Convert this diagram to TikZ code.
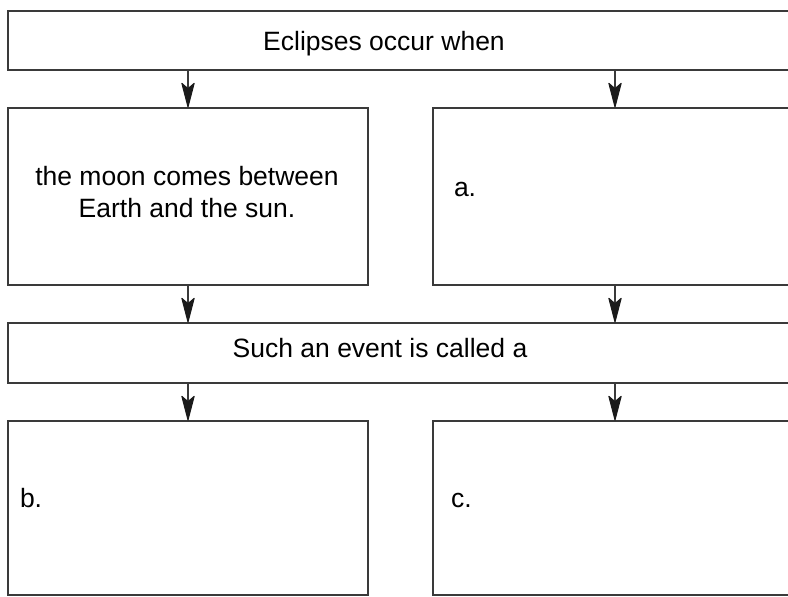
\documentclass[tikz,border=0pt]{standalone}
\usepackage{fontspec}
\setmainfont{Liberation Sans}
\usetikzlibrary{arrows.meta}
\definecolor{edge}{HTML}{3A3A3A}
\definecolor{tip}{HTML}{1A1A1A}
\tikzset{
  box/.style={draw=edge, line width=1.8bp, fill=white, rectangle, anchor=north west, inner sep=0pt, outer sep=0pt},
  arr/.style={draw=edge, line width=1.6bp, -{Stealth[length=27bp, width=14bp, inset=6bp, color=tip, line width=1bp, round]}, shorten >=0.5bp},
  txt/.style={inner sep=0pt, outer sep=0pt, font=\fontsize{26.5bp}{32bp}\selectfont, text=black},
}
\begin{document}
\begin{tikzpicture}[x=1bp, y=-1bp]
\useasboundingbox (0,0) rectangle (788,597);
\fill[white] (0,0) rectangle (788,597);
\begin{scope}
\clip (0,0) rectangle (788,597);
\node[box, minimum width=789bp, minimum height=59bp] (top) at (8,11) {};
\node[box, minimum width=360bp, minimum height=177bp] (l1) at (8,108) {};
\node[box, minimum width=364bp, minimum height=177bp] (r1) at (433,108) {};
\node[box, minimum width=789bp, minimum height=60bp] (mid) at (8,323) {};
\node[box, minimum width=360bp, minimum height=174bp] (l2) at (8,421) {};
\node[box, minimum width=364bp, minimum height=174bp] (r2) at (433,421) {};
\end{scope}
\draw[arr] (l1.north |- top.south) -- (l1.north);
\draw[arr] (r1.north |- top.south) -- (r1.north);
\draw[arr] (l1.south) -- (l1.south |- mid.north);
\draw[arr] (r1.south) -- (r1.south |- mid.north);
\draw[arr] (l2.north |- mid.south) -- (l2.north);
\draw[arr] (r2.north |- mid.south) -- (r2.north);
\node[txt, anchor=base] (t0) at (384,50.5) {Eclipses occur when};
\node[txt, anchor=base] (t1) at (187,186) {the moon comes between};
\node[txt, anchor=base] (t2) at (187,218) {Earth and the sun.};
\node[txt, anchor=base west] (ta) at (454,197) {a.};
\node[txt, anchor=base] (tm) at (380,357) {Such an event is called a};
\node[txt, anchor=base west] (tb) at (20,507) {b.};
\node[txt, anchor=base west] (tc) at (451,507) {c.};
\end{tikzpicture}
\end{document}
